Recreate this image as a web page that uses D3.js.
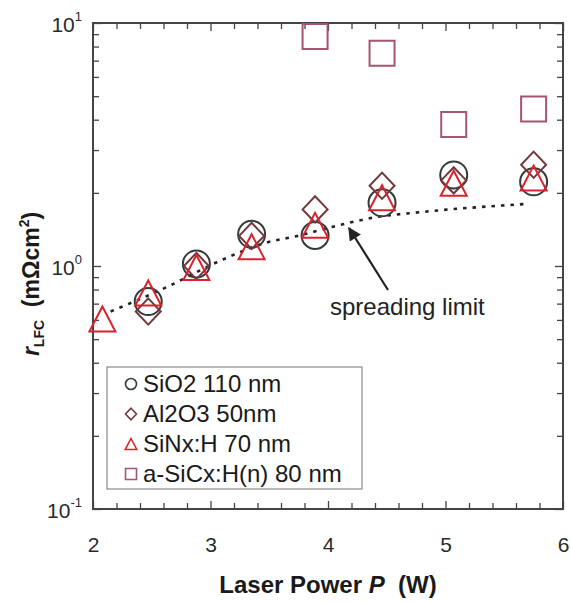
<!DOCTYPE html>
<html>
<head>
<meta charset="utf-8">
<script src="https://cdn.jsdelivr.net/npm/d3@7"></script>
<style>
  body { margin: 0; background: #fff; }
  svg { font-family: "Liberation Sans", Arial, sans-serif; }
</style>
</head>
<body>
<div id="chart"></div>
<script>
// laser power (W) for each series
const sio2Power = [2.47, 2.88, 3.35, 3.89, 4.46, 5.07, 5.75];
const sio2R = [0.714, 1.02, 1.35, 1.335, 1.82, 2.37, 2.22];

const al2o3Power = [2.47, 2.88, 3.35, 3.89, 4.46, 5.07, 5.75];
const al2o3R = [0.65, 1.0, 1.33, 1.71, 2.14, 2.25, 2.61];

const sinxPower = [2.08, 2.47, 2.88, 3.35, 3.89, 4.46, 5.07, 5.75];
const sinxR = [0.605, 0.774, 0.986, 1.2, 1.47, 1.91, 2.19, 2.30];

const sicxPower = [3.89, 4.46, 5.07, 5.75];
const sicxR = [8.8, 7.5, 3.82, 4.43];

// dotted "spreading limit" curve
const limitPower = [2.15, 2.63, 3.08, 3.48, 3.74, 4.04, 4.38, 4.81, 5.69];
const limitR = [0.65, 0.82, 1.05, 1.25, 1.33, 1.45, 1.58, 1.67, 1.80];

const powerTicks = [2, 3, 4, 5, 6];
const rTicks = [0.1, 1, 10];
const rTickExp = ["-1", "0", "1"];

const legendLabels = ["SiO2 110 nm", "Al2O3 50nm", "SiNx:H 70 nm", "a-SiCx:H(n) 80 nm"];

const colors = {
    circle: '#333b3b',
    diamond: '#74383c',
    triangle: '#d8232e',
    square: '#a4566d'
};

const W = 571, H = 602;
const margin = { top: 23, right: 8, bottom: 93, left: 93 };
const width = W - margin.left - margin.right;
const height = H - margin.top - margin.bottom;

const svg = d3.select("#chart")
    .append("svg")
    .attr("width", W)
    .attr("height", H);

const g = svg.append("g")
    .attr("transform", `translate(${margin.left}, ${margin.top})`);

const x = d3.scaleLinear().domain([2, 6]).range([0, width]);
const y = d3.scaleLog().domain([0.1, 10]).range([height, 0]);

const xMinor = d3.range(2, 6.001, 0.2).map(v => +v.toFixed(1)).filter(v => !powerTicks.includes(v));
const yMinor = [];
[0.1, 1].forEach(d => { for (let k = 2; k <= 9; k++) yMinor.push(d * k); });

// bottom axis, major ticks + labels
const xAxisG = g.append("g")
    .attr("transform", `translate(0, ${height})`)
    .call(d3.axisBottom(x).tickValues(powerTicks).tickFormat(d3.format("d"))
        .tickSizeInner(-8).tickSizeOuter(0).tickPadding(28));
xAxisG.selectAll("text").style("font-size", "21px").attr("fill", "#2a2a2a");

g.append("g")
    .attr("transform", `translate(0, ${height})`)
    .call(d3.axisBottom(x).tickValues(xMinor).tickFormat("").tickSizeInner(-6).tickSizeOuter(0));

// top axis ticks only
g.append("g")
    .call(d3.axisTop(x).tickValues(powerTicks).tickFormat("").tickSizeInner(-8).tickSizeOuter(0));
g.append("g")
    .call(d3.axisTop(x).tickValues(xMinor).tickFormat("").tickSizeInner(-6).tickSizeOuter(0));

// left axis with 10^n labels
const yAxisG = g.append("g")
    .call(d3.axisLeft(y).tickValues(rTicks).tickFormat("").tickSizeInner(-8).tickSizeOuter(0).tickPadding(10));
yAxisG.selectAll(".tick").each(function(d, i) {
    const t = d3.select(this).append("text")
        .attr("x", -11)
        .attr("dy", "0.4em")
        .attr("text-anchor", "end")
        .attr("fill", "#2a2a2a")
        .style("font-size", "21px");
    t.append("tspan").text("10");
    t.append("tspan")
        .attr("dy", -11)
        .style("font-size", "13px")
        .text(rTickExp[i]);
});
g.append("g")
    .call(d3.axisLeft(y).tickValues(yMinor).tickFormat("").tickSizeInner(-6).tickSizeOuter(0));

// right axis ticks only
g.append("g")
    .attr("transform", `translate(${width}, 0)`)
    .call(d3.axisRight(y).tickValues(rTicks).tickFormat("").tickSizeInner(-8).tickSizeOuter(0));
g.append("g")
    .attr("transform", `translate(${width}, 0)`)
    .call(d3.axisRight(y).tickValues(yMinor).tickFormat("").tickSizeInner(-6).tickSizeOuter(0));

g.selectAll(".domain").remove();
g.selectAll(".tick line").attr("stroke", "#444").attr("stroke-width", 1.3);

g.append("rect")
    .attr("width", width)
    .attr("height", height)
    .attr("fill", "none")
    .attr("stroke", "#444")
    .attr("stroke-width", 2);

// axis titles
svg.append("text")
    .attr("x", margin.left + width / 2)
    .attr("y", 593)
    .attr("text-anchor", "middle")
    .style("font-size", "24px")
    .style("font-weight", "bold")
    .attr("fill", "#1a1a1a")
    .call(t => {
        t.append("tspan").text("Laser Power ");
        t.append("tspan").style("font-style", "italic").text("P");
        t.append("tspan").text("\u00a0 (W)");
    });

svg.append("text")
    .attr("transform", "translate(39, 284) rotate(-90)")
    .attr("text-anchor", "middle")
    .style("font-size", "23px")
    .style("font-weight", "bold")
    .attr("fill", "#1a1a1a")
    .call(t => {
        t.append("tspan").style("font-style", "italic").text("r");
        t.append("tspan").attr("dy", 5).style("font-size", "14px").text("LFC");
        t.append("tspan").attr("dy", -5).text("\u00a0 (m\u03a9cm");
        t.append("tspan").attr("dy", -10).style("font-size", "14px").text("2");
        t.append("tspan").attr("dy", 10).text(")");
    });

// spreading limit
const limitData = limitPower.map((p, i) => ({ p: p, r: limitR[i] }));
g.append("path")
    .datum(limitData)
    .attr("fill", "none")
    .attr("stroke", "#222")
    .attr("stroke-width", 2.6)
    .attr("stroke-dasharray", "3.5,6")
    .attr("d", d3.line().x(d => x(d.p)).y(d => y(d.r)).curve(d3.curveMonotoneX));

// markers
function drawMarker(sel, shape, s) {
    const h = s / 2;
    if (shape === 'circle') {
        return sel.append("circle").attr("r", h);
    }
    let d;
    if (shape === 'diamond') d = `M0,${-h * 1.05}L${h},0L0,${h * 1.05}L${-h},0Z`;
    if (shape === 'triangle') d = `M0,${-h}L${h * 1.04},${h}L${-h * 1.04},${h}Z`;
    if (shape === 'square') d = `M${-h},${-h}H${h}V${h}H${-h}Z`;
    return sel.append("path").attr("d", d);
}

const series = [
    { shape: 'circle', power: sio2Power, r: sio2R },
    { shape: 'diamond', power: al2o3Power, r: al2o3R },
    { shape: 'triangle', power: sinxPower, r: sinxR },
    { shape: 'square', power: sicxPower, r: sicxR }
];

series.forEach(s => {
    const pts = s.power.map((p, i) => ({ p: p, r: s.r[i] }));
    g.append("g").selectAll("g")
        .data(pts)
        .enter()
        .append("g")
        .attr("transform", d => `translate(${x(d.p)}, ${y(d.r)})`)
        .each(function() {
            drawMarker(d3.select(this), s.shape, s.shape === 'circle' ? 27 : 25)
                .attr("fill", "none")
                .attr("stroke", colors[s.shape])
                .attr("stroke-width", 2);
        });
});

// arrow + annotation
svg.append("defs").append("marker")
    .attr("id", "arrowhead")
    .attr("viewBox", "0 0 10 10")
    .attr("refX", 9)
    .attr("refY", 5)
    .attr("markerWidth", 8)
    .attr("markerHeight", 6)
    .attr("orient", "auto")
    .append("path")
    .attr("d", "M0,0L10,5L0,10Z")
    .attr("fill", "#222");

svg.append("line")
    .attr("x1", 388).attr("y1", 290)
    .attr("x2", 349).attr("y2", 228)
    .attr("stroke", "#222")
    .attr("stroke-width", 2.2)
    .attr("marker-end", "url(#arrowhead)");

svg.append("text")
    .attr("x", 330)
    .attr("y", 315)
    .style("font-size", "24px")
    .attr("fill", "#222")
    .text("spreading limit");

// legend
const legend = svg.append("g").attr("transform", "translate(107, 367)");
legend.append("rect")
    .attr("width", 255)
    .attr("height", 122)
    .attr("fill", "#fff")
    .attr("stroke", "#8a8a8a")
    .attr("stroke-width", 1.2);

const shapes = ['circle', 'diamond', 'triangle', 'square'];
const rows = legend.selectAll(".row")
    .data(legendLabels)
    .enter()
    .append("g")
    .attr("class", "row")
    .attr("transform", (d, i) => `translate(0, ${17 + i * 30})`);

rows.each(function(d, i) {
    drawMarker(d3.select(this).append("g").attr("transform", "translate(24, 0)"), shapes[i], 11)
        .attr("fill", "none")
        .attr("stroke", colors[shapes[i]])
        .attr("stroke-width", 1.6);
});

rows.append("text")
    .attr("x", 36)
    .attr("y", 8)
    .style("font-size", "24px")
    .attr("fill", "#1a1a1a")
    .text(d => d);
</script>
</body>
</html>
